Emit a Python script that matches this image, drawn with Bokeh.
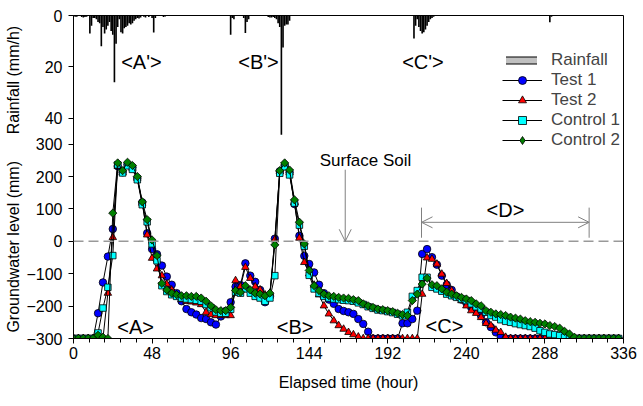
import numpy as np
from bokeh.plotting import figure
from bokeh.models import (Range1d, LinearAxis, FixedTicker, Span, Arrow, OpenHead,
                          Label, Legend, LegendItem, ColumnDataSource)
from bokeh.embed import file_html
from bokeh.resources import INLINE

# ---- data -------------------------------------------------------------
# groundwater readings every 3 hours (mm, -300 = sensor floor)
hours = list(range(0, 334, 3))

test1 = [-300, -300, -300, -300, -300, -222, -127, -47, 38, 232,
         213, 237, 228, 195, 120, 25, -24, -40, -75, -109,
         -134, -160, -185, -209, -219, -226, -237, -240, -250, -257,
         -232, -215, -188, -140, -135, -68, -106, -125, -150, -188,
         -170, 8, 216, 235, 213, 115, 17, -45, -70, -96,
         -134, -160, -180, -193, -209, -215, -219, -224, -240, -255,
         -279, -300, -300, -300, -300, -300, -300, -253, -253, -240,
         -214, -39, -24, -49, -72, -106, -134, -150, -170, -180,
         -190, -204, -214, -230, -250, -265, -281, -295, -300, -300,
         -300, -300, -300, -300, -300, -300, -300, -300, -300, -300,
         -300, -300, -300, -300, -300, -300, -300, -300, -300, -300,
         -300, -300]

test2 = [-300, -300, -300, -300, -300, -300, -300, -160, 12, 232,
         212, 236, 226, 195, 118, 20, -52, -85, -106, -132,
         -150, -165, -180, -185, -187, -190, -195, -219, -226, -229,
         -229, -229, -229, -121, -140, -80, -114, -140, -150, -165,
         -160, 5, 215, 236, 212, 120, 10, -65, -100, -135,
         -165, -199, -224, -245, -260, -271, -281, -288, -295, -300,
         -300, -300, -300, -300, -300, -300, -300, -300, -300, -300,
         -300, -163, -51, -55, -70, -101, -130, -152, -173, -183,
         -199, -214, -222, -235, -253, -260, -274, -281, -296, -300,
         -300, -300, -300, -300, -300, -300, -300, -300, -300, -300,
         -300, -300, -300, -300, -300, -300, -300, -300, -300, -300,
         -300, -300]

control1 = [-300, -300, -300, -300, -300, -283, -206, -142, -44, 236,
            211, 233, 222, 190, 113, 60, -8, -60, -137, -155,
            -165, -170, -175, -178, -180, -182, -185, -195, -205, -218,
            -222, -222, -210, -157, -160, -147, -160, -170, -175, -185,
            -175, -106, 210, 230, 205, 118, 50, -15, -105, -147,
            -160, -170, -175, -178, -180, -182, -183, -185, -190, -195,
            -202, -207, -212, -214, -217, -220, -225, -230, -219, -170,
            -152, -111, -111, -142, -147, -154, -163, -168, -173, -178,
            -183, -193, -202, -209, -219, -229, -234, -242, -247, -250,
            -254, -257, -260, -263, -268, -276, -281, -286, -288, -291,
            -296, -300, -300, -300, -300, -300, -300, -300, -300, -300,
            -300, -300]

control2 = [-300, -300, -300, -300, -300, -290, -296, -300, 87, 242,
            218, 244, 234, 200, 122, 67, 4, -44, -130, -150,
            -160, -165, -168, -168, -170, -170, -175, -185, -199, -211,
            -214, -214, -204, -152, -157, -137, -150, -160, -163, -168,
            -160, -11, 218, 242, 220, 128, 59, -8, -90, -137,
            -152, -163, -168, -170, -173, -175, -176, -180, -183, -193,
            -199, -204, -209, -211, -214, -217, -222, -226, -229, -183,
            -163, -132, -114, -134, -137, -147, -157, -163, -168, -173,
            -178, -183, -193, -199, -214, -219, -224, -226, -229, -234,
            -237, -240, -245, -248, -250, -253, -255, -260, -263, -268,
            -278, -286, -296, -300, -300, -300, -300, -300, -300, -300,
            -300, -300]

# hourly rainfall (mm/h)
rain_hours = [1, 2, 5, 6, 7, 8, 10, 11, 12, 13, 14, 15, 16, 17, 18, 19, 20, 21,
              22, 23, 24, 25, 26, 27, 28, 29, 30, 31, 32, 33, 34, 35, 36, 37,
              38, 39, 40, 41, 43, 44, 46, 48, 49, 50, 55, 56,
              96, 97, 98, 104, 105, 106, 107, 119, 120, 121, 122, 123, 124,
              125, 126, 127, 128, 129, 130, 131, 132,
              208, 209, 210, 211, 212, 213, 214, 215, 216, 217, 218, 219, 220,
              291, 292]
rain_mm = [0.5, 0.5, 0.6, 0.8, 0.6, 0.5, 7.0, 4.0, 1.0, 1.0, 1.5, 2.5, 3.0, 12.0,
           4.5, 7.0, 5.5, 4.0, 2.5, 6.0, 7.5, 26.0, 11.0, 4.5, 1.5, 6.5, 7.0,
           5.0, 4.5, 4.0, 3.0, 3.5, 3.0, 2.0, 1.5, 1.0, 1.2, 0.8, 0.5, 0.8,
           0.6, 1.0, 6.6, 1.0, 0.6, 0.4,
           7.5, 1.0, 1.5, 1.0, 6.8, 2.5, 1.5, 0.6, 0.8, 0.8, 0.6, 1.0, 1.5,
           3.0, 4.5, 46.5, 12.5, 4.0, 3.5, 3.5, 2.0,
           9.0, 4.0, 1.5, 4.5, 6.0, 7.0, 6.5, 5.5, 4.0, 2.5, 1.5, 1.0, 0.5,
           2.6, 0.5]

x_ticks = [0, 48, 96, 144, 192, 240, 288, 336]
gw_ticks = [-300, -200, -100, 0, 100, 200, 300]
rain_ticks = [0, 20, 40]

# ---- scales -----------------------------------------------------------
GW_MIN, GW_MAX = -300, 697.0
RAIN_MAX = 125.9
FONT = "Liberation Sans"
NBSP = "\u00a0"

p = figure(width=643, height=406, output_backend="svg", toolbar_location=None,
           x_range=Range1d(0, 336), y_range=Range1d(GW_MIN, GW_MAX),
           x_axis_type=None, y_axis_type=None,
           min_border_left=73, min_border_right=20,
           min_border_top=15, min_border_bottom=68)
p.extra_y_ranges = {"rain": Range1d(RAIN_MAX, 0)}
p.grid.visible = False
p.outline_line_color = "black"
p.outline_line_width = 1
p.background_fill_color = "white"
p.border_fill_color = "white"

# rainfall ticks share the left axis: place them on the groundwater scale
gw_per_mm = (GW_MAX - GW_MIN) / RAIN_MAX
rain_pos = [round(GW_MAX - r * gw_per_mm, 2) for r in rain_ticks]

# one left axis carries both titles: groundwater (lower) and rainfall (upper)
y_title = "Groundwater level (mm)" + NBSP * 6 + "Rainfall (mm/h)" + NBSP
yaxis = LinearAxis(ticker=FixedTicker(ticks=gw_ticks + rain_pos, minor_ticks=[]),
                   major_label_overrides={pos: str(r) for pos, r in zip(rain_pos, rain_ticks)},
                   axis_label=y_title)
xaxis = LinearAxis(ticker=FixedTicker(ticks=x_ticks,
                                      minor_ticks=[i * 9.6 for i in range(36)]),
                   axis_label="Elapsed time (hour)")
for ax in (xaxis, yaxis):
    ax.axis_line_color = "black"
    ax.major_tick_line_color = "black"
    ax.minor_tick_line_color = "black"
    ax.major_tick_in = 0
    ax.major_tick_out = 5
    ax.minor_tick_in = 0
    ax.minor_tick_out = 4
    ax.major_label_text_font = FONT
    ax.major_label_text_font_size = "16px"
    ax.major_label_text_color = "black"
    ax.axis_label_text_font = FONT
    ax.axis_label_text_font_size = "16px"
    ax.axis_label_text_font_style = "normal"
    ax.axis_label_text_color = "black"
xaxis.major_label_standoff = 3
xaxis.axis_label_standoff = 12
yaxis.major_label_standoff = 6
yaxis.axis_label_standoff = 1
p.add_layout(xaxis, "below")
p.add_layout(yaxis, "left")

# ---- rainfall bars ----------------------------------------------------
p.vbar(x=rain_hours, width=1.0, top=rain_mm, bottom=0, y_range_name="rain",
       fill_color="black", line_color=None)

# ---- reference lines and arrows ---------------------------------------
GRAY = "#808080"
p.add_layout(Span(location=0, dimension="width", line_color="#999999",
                  line_width=1.5, line_dash="10 5"))
p.add_layout(Arrow(x_start=166, y_start=221, x_end=166, y_end=0,
                   line_color=GRAY, line_width=1,
                   end=OpenHead(size=12, line_color=GRAY, line_width=1)))
p.add_layout(Arrow(x_start=212.6, y_start=58.6, x_end=315, y_end=58.6,
                   line_color=GRAY, line_width=1,
                   start=OpenHead(size=11, line_color=GRAY, line_width=1),
                   end=OpenHead(size=11, line_color=GRAY, line_width=1)))
p.segment(x0=[212.6, 315], y0=[11, 11], x1=[212.6, 315], y1=[104, 104],
          line_color=GRAY, line_width=1)

# ---- groundwater series -----------------------------------------------
# (name, values, marker, size, fill, angle, legend marker)
series = [
    ("Test 1", test1, "circle", 7.5, "#0000FF", 0, "circle"),
    ("Test 2", test2, "triangle", 7.5, "#FF0000", 0, "triangle"),
    ("Control 1", control1, "square", 6.5, "#00FFFF", 0, "square"),
    ("Control 2", control2, "square", 5.8, "#008000", np.pi / 4, "diamond"),
]
# legend-only glyphs sit outside the visible ranges
off_x, off_y = [-60, -50], [-2000, -2000]
items = []
for name, vals, marker, size, color, ang, lmarker in series:
    src = ColumnDataSource(dict(h=hours, gw=vals))
    ln = p.line("h", "gw", source=src, line_color="black", line_width=1)
    sc = p.scatter("h", "gw", source=src, marker=marker, size=size, angle=ang,
                   fill_color=color, line_color="black", line_width=0.8)
    if lmarker != marker:
        sc = p.scatter(off_x, off_y, marker=lmarker, size=size,
                       fill_color=color, line_color="black", line_width=0.8)
    items.append(LegendItem(label=name, renderers=[ln, sc]))

# ---- text annotations -------------------------------------------------
def note(x, y, text, size="20px"):
    p.add_layout(Label(x=x, y=y, text=text, text_font=FONT, text_font_size=size,
                       text_color="black", text_align="center",
                       text_baseline="middle"))

note(41.5, 555, "<A'>")
note(113, 555, "<B'>")
note(213.5, 555, "<C'>")
note(38, -263, "<A>")
note(135.4, -263, "<B>")
note(226.6, -260, "<C>")
note(263.9, 98, "<D>")
note(178.4, 249, "Surface Soil", size="17px")

# ---- legends ----------------------------------------------------------
rk = p.line(off_x, off_y, line_color="black", line_width=8, line_cap="square")
rg = p.line(off_x, off_y, line_color="#C0C0C0", line_width=6, line_cap="square")
rain_legend = Legend(items=[LegendItem(label="Rainfall", renderers=[rk, rg])],
                     location=(433, 268.5), glyph_width=31, glyph_height=20,
                     label_height=20, label_standoff=14, padding=0, margin=0,
                     spacing=0, border_line_alpha=0, background_fill_alpha=0,
                     label_text_font=FONT, label_text_font_size="17px")
series_legend = Legend(items=items, location=(429, 188.5), glyph_width=40,
                       glyph_height=20, label_height=20, label_standoff=9,
                       padding=0, margin=0, spacing=0, border_line_alpha=0,
                       background_fill_alpha=0, label_text_font=FONT,
                       label_text_font_size="17px")
p.add_layout(rain_legend)
p.add_layout(series_legend)

open("out.html", "w").write(file_html(p, INLINE))
